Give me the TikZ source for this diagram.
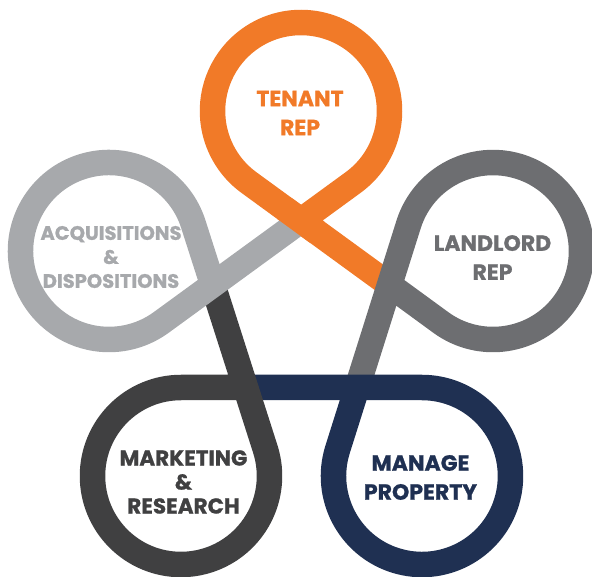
\documentclass[tikz,border=0pt]{standalone}
\usepackage{fontspec}
\newfontfamily\pop{Poppins}[BoldFeatures={FakeBold=1}]
\usetikzlibrary{calc}
\definecolor{cOr}{HTML}{F17A28}
\definecolor{cLg}{HTML}{A7A9AC}
\definecolor{cMg}{HTML}{6D6E71}
\definecolor{cDk}{HTML}{404041}
\definecolor{cNv}{HTML}{1F3052}
\def\rr{88.5pt}
\newcommand\knotloop[6]{%
  \draw[loopline,#1] let \p1=($(#3)-(#2)$), \p2=($(#4)-(#2)$),
    \n1={atan2(\y1,\x1)}, \n2={atan2(\y2,\x2)}, \n3={\n1+mod(\n2-\n1+720,360)} in
    (#5) -- (#3) arc[start angle=\n1, end angle=\n3, radius=\rr] -- (#6);}
\begin{document}
\begin{tikzpicture}[x=1pt,y=1pt,
  loopline/.style={line width=25.5pt, line cap=butt, line join=round},
  lbl/.style={font=\pop\bfseries\fontsize{22}{29}\selectfont, align=center},
  lblthree/.style={font=\pop\bfseries\fontsize{21.5}{24}\selectfont, align=center}]
\useasboundingbox (0,0) rectangle (592,576);
\clip (0,0) rectangle (592,576);
\coordinate (cT) at (301,465);
\coordinate (cL) at (493,325);
\coordinate (cM) at (422,100);
\coordinate (cK) at (181,100);
\coordinate (cA) at (109,325);
\coordinate (oT) at ($(cT)!\rr!-90:(cL)$);
\coordinate (iL) at ($(cL)!\rr!90:(cT)$);
\coordinate (oL) at ($(cL)!\rr!-90:(cM)$);
\coordinate (iM) at ($(cM)!\rr!90:(cL)$);
\coordinate (oM) at ($(cM)!\rr!-90:(cK)$);
\coordinate (iK) at ($(cK)!\rr!90:(cM)$);
\coordinate (oK) at ($(cK)!\rr!-90:(cA)$);
\coordinate (iA) at ($(cA)!\rr!90:(cK)$);
\coordinate (oA) at ($(cA)!\rr!-90:(cT)$);
\coordinate (iT) at ($(cT)!\rr!90:(cA)$);
\coordinate (vT) at (intersection of oA--iT and oT--iL);
\coordinate (vL) at (intersection of oT--iL and oL--iM);
\coordinate (vM) at (intersection of oL--iM and oM--iK);
\coordinate (vK) at (intersection of oM--iK and oK--iA);
\coordinate (vA) at (intersection of oK--iA and oA--iT);
\knotloop{cOr}{cT}{iT}{oT}{vT}{vL}
\knotloop{cMg}{cL}{iL}{oL}{vL}{vM}
\knotloop{cNv}{cM}{iM}{oM}{vM}{vK}
\knotloop{cDk}{cK}{iK}{oK}{vK}{vA}
\knotloop{cLg}{cA}{iA}{oA}{vA}{vT}
\draw[loopline,cOr] ($(vT)!-20pt!(iL)$) -- ($(vT)!20pt!(iL)$);
\node[lbl, text=cOr] (tT) at (300,463) {TENANT\\REP};
\node[lbl, text=cMg] (tL) at (492.5,318.5) {LANDLORD\\REP};
\node[lblthree, text=cLg, font=\pop\bfseries\fontsize{19.5}{24}\selectfont] (tA) at (111,319) {ACQUISITIONS\\\&\\DISPOSITIONS};
\node[lblthree, text=cDk] (tK) at (183.5,94) {MARKETING\\\&\\RESEARCH};
\node[lbl, text=cNv] (tM) at (420.5,98.5) {MANAGE\\PROPERTY};
\end{tikzpicture}
\end{document}
